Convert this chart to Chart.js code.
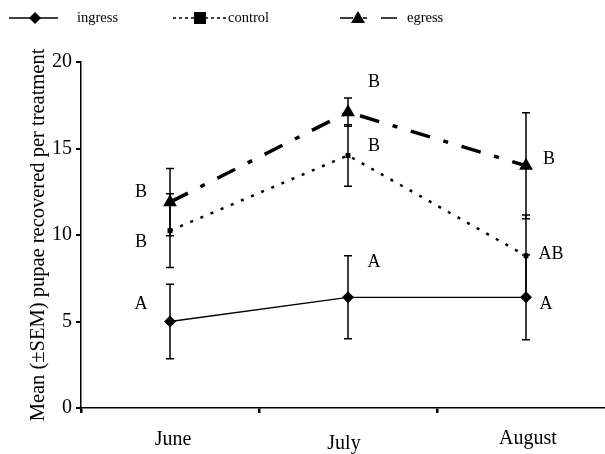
<!DOCTYPE html>
<html>
<head>
<meta charset="utf-8">
<script src="https://cdn.jsdelivr.net/npm/chart.js@4/dist/chart.umd.min.js"></script>
<style>
html,body{margin:0;padding:0;background:#fff;}
#wrap{width:605px;height:454px;position:relative;}
</style>
</head>
<body>
<div id="wrap"><canvas id="c"></canvas></div>
<script>
const categories = ['June', 'July', 'August'];
const ingress = [5.0, 6.4, 6.4];
const ingressSem = [2.15, 2.4, 2.45];
const control = [10.25, 14.6, 8.8];
const controlSem = [2.13, 1.78, 2.36];
const egress = [11.9, 17.1, 14.0];
const egressSem = [1.95, 0.82, 3.06];
const ingressLetters = ['A', 'A', 'A'];
const controlLetters = ['B', 'B', 'AB'];
const egressLetters = ['B', 'B', 'B'];
const yTicks = [0, 5, 10, 15, 20];
const xTickPositions = [0.5, 1.5, 2.5];
const seriesNames = ['ingress', 'control', 'egress'];

const SERIF = '"Liberation Serif", "DejaVu Serif", serif';

const sems = [ingressSem, controlSem, egressSem];
const letters = [ingressLetters, controlLetters, egressLetters];

function pts(arr) { return arr.map((v, i) => ({x: i + 1, y: v})); }

const extras = {
  id: 'extras',
  beforeDatasetsDraw(chart) {
    const ctx = chart.ctx, ys = chart.scales.y;
    ctx.save();
    ctx.strokeStyle = '#000';
    ctx.lineWidth = 1.5;
    chart.data.datasets.forEach((ds, di) => {
      const meta = chart.getDatasetMeta(di);
      meta.data.forEach((el, i) => {
        const v = ds.data[i].y, s = sems[di][i];
        const x = el.x;
        const yt = ys.getPixelForValue(v + s), yb = ys.getPixelForValue(v - s);
        ctx.beginPath();
        ctx.moveTo(x, yt); ctx.lineTo(x, yb);
        ctx.moveTo(x - 4, yt); ctx.lineTo(x + 4, yt);
        ctx.moveTo(x - 4, yb); ctx.lineTo(x + 4, yb);
        ctx.stroke();
      });
    });
    ctx.restore();
  },
  afterDraw(chart, args, opts) {
    const ctx = chart.ctx;
    const xs = chart.scales.x;
    ctx.save();
    ctx.fillStyle = '#000';
    // significance letters
    ctx.font = '18px ' + SERIF;
    ctx.textAlign = 'center';
    ctx.textBaseline = 'middle';
    chart.data.datasets.forEach((ds, di) => {
      const meta = chart.getDatasetMeta(di);
      meta.data.forEach((el, i) => {
        const o = opts.letterOffsets[di][i];
        ctx.fillText(letters[di][i], el.x + o[0], el.y + o[1]);
      });
    });
    // category labels
    ctx.font = '20px ' + SERIF;
    categories.forEach((c, i) => {
      ctx.fillText(c, xs.getPixelForValue(i + 1) + opts.catDx[i], chart.chartArea.bottom + opts.catOffsets[i]);
    });
    // legend
    const ly = 18;
    ctx.strokeStyle = '#000';
    ctx.font = '14.5px ' + SERIF;
    ctx.textAlign = 'left';
    // ingress
    ctx.lineWidth = 1.3;
    ctx.setLineDash([]);
    ctx.beginPath(); ctx.moveTo(9, ly); ctx.lineTo(58, ly); ctx.stroke();
    ctx.beginPath(); ctx.moveTo(35, ly - 6); ctx.lineTo(41, ly); ctx.lineTo(35, ly + 6); ctx.lineTo(29, ly); ctx.closePath(); ctx.fill();
    ctx.fillText(seriesNames[0], 77, ly);
    // control
    ctx.setLineDash([3, 3]);
    ctx.beginPath(); ctx.moveTo(173, ly); ctx.lineTo(195, ly); ctx.moveTo(205, ly); ctx.lineTo(226, ly); ctx.stroke();
    ctx.setLineDash([]);
    ctx.fillRect(194, ly - 6, 12, 12);
    ctx.fillText(seriesNames[1], 228, ly);
    // egress
    ctx.lineWidth = 1.5;
    ctx.beginPath(); ctx.moveTo(340, ly); ctx.lineTo(353, ly); ctx.moveTo(363, ly); ctx.lineTo(367, ly); ctx.moveTo(381, ly); ctx.lineTo(397, ly); ctx.stroke();
    ctx.beginPath(); ctx.moveTo(358, ly - 7); ctx.lineTo(365, ly + 5); ctx.lineTo(351, ly + 5); ctx.closePath(); ctx.fill();
    ctx.fillText(seriesNames[2], 407, ly);
    ctx.restore();
  }
};

new Chart(document.getElementById('c'), {
  type: 'line',
  data: {
    datasets: [
      {label: seriesNames[0], data: pts(ingress), borderColor: '#000', borderWidth: 1.3,
       pointStyle: 'rectRot', pointRadius: 6, pointBackgroundColor: '#000', pointBorderColor: '#000', pointBorderWidth: 0},
      {label: seriesNames[1], data: pts(control), borderColor: '#000', borderWidth: 2.5, borderDash: [3, 8],
       pointStyle: 'rect', pointRadius: 3.5, pointBackgroundColor: '#000', pointBorderColor: '#000', pointBorderWidth: 0},
      {label: seriesNames[2], data: pts(egress), borderColor: '#000', borderWidth: 3.5, borderDash: [20, 14, 5, 14],
       pointStyle: 'triangle', pointRadius: 8, pointBackgroundColor: '#000', pointBorderColor: '#000', pointBorderWidth: 0}
    ]
  },
  options: {
    responsive: true,
    maintainAspectRatio: false,
    animation: false,
    layout: {autoPadding: false, padding: {top: 62, left: 0, right: 0, bottom: 0}},
    plugins: {
      legend: {display: false},
      tooltip: {enabled: false},
      extras: {
        letterOffsets: [
          [[-29, -17], [26, -35], [20, 7]],
          [[-29, 12], [26, -9], [25, -1]],
          [[-29, -10], [26, -30], [23, -7]]
        ],
        catOffsets: [32, 36, 31],
        catDx: [3, -4, 2]
      }
    },
    scales: {
      x: {
        type: 'linear',
        min: 0.5,
        max: 0.5 + 524 / 178,
        afterBuildTicks(s) { s.ticks = xTickPositions.map(v => ({value: v})); },
        afterFit(s) { s.height = 46; },
        ticks: {callback: () => '', font: {size: 1}},
        grid: {drawOnChartArea: false, color: '#000', lineWidth: 2.5, tickLength: 5},
        border: {display: true, color: '#000', width: 1.5}
      },
      y: {
        min: 0, max: 20,
        afterBuildTicks(s) { s.ticks = yTicks.map(v => ({value: v})); },
        afterFit(s) { s.width = 81; },
        ticks: {color: '#000', font: {family: SERIF, size: 20}, padding: 4},
        grid: {drawOnChartArea: false, color: '#000', lineWidth: 2, tickLength: 5},
        border: {display: true, color: '#000', width: 1.5},
        title: {display: true, text: 'Mean (±SEM) pupae recovered per treatment', color: '#000',
                font: {family: SERIF, size: 20.5}, padding: {top: 26, bottom: 0}}
      }
    }
  },
  plugins: [extras]
});
</script>
</body>
</html>
